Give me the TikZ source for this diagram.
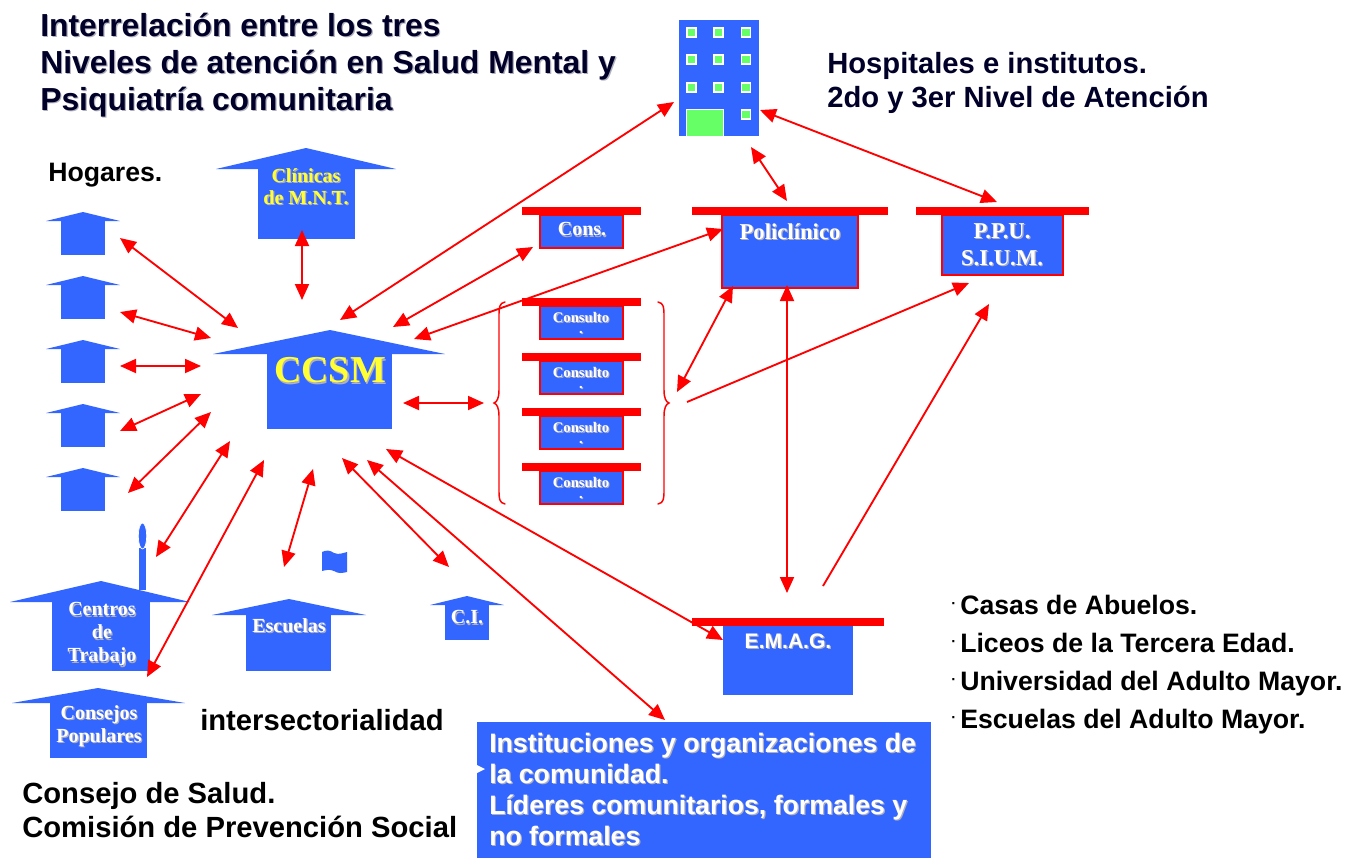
\documentclass[tikz,border=0pt]{standalone}
\usepackage{fontspec}
\setmainfont{Liberation Sans}
\newfontfamily\serifbf{Liberation Serif}[BoldFont={Liberation Serif Bold}]
\usetikzlibrary{arrows.meta}
\definecolor{hblue}{RGB}{51,102,255}
\definecolor{hred}{RGB}{255,0,0}
\definecolor{hyellow}{RGB}{255,255,51}
\definecolor{hgreen}{RGB}{102,255,102}
\definecolor{hnavy}{RGB}{0,0,40}
\definecolor{hshadow}{RGB}{175,175,190}
\newcommand{\shd}[2]{\leavevmode\rlap{\kern0.9pt\raisebox{-0.9pt}{\textcolor{hshadow}{#2}}}\textcolor{#1}{#2}}
\newcommand{\fsz}[2]{\fontsize{#1}{#2}\selectfont}
\newcommand{\dotm}{\llap{\raisebox{4pt}{\fsz{11}{11}·}\kern3pt}}
\tikzset{
  x=0.75pt,y=-0.75pt,
  bodybox/.style={fill=hblue,draw=none,inner sep=0pt,outer sep=0pt},
  redbox/.style={fill=hblue,draw=hred,line width=1.4pt,inner sep=0pt,outer sep=0pt},
  redbar/.style={fill=hred,draw=none,inner sep=0pt,outer sep=0pt},
  roofshape/.style={fill=hblue,draw=none},
  link/.style={draw=hred,line width=1.4pt,{Triangle[length=12pt,width=10.5pt]}-{Triangle[length=12pt,width=10.5pt]}},
  linkone/.style={draw=hred,line width=1.4pt,-{Triangle[length=12pt,width=10.5pt]}},
  brace/.style={draw=hred,line width=1.1pt,line cap=round},
  blacktxt/.style={inner sep=0pt,anchor=base west,align=left},
  seriftxt/.style={inner sep=0pt,align=center},
  win/.style={fill=hgreen,draw=white,line width=1.2pt},
}
% name, apex x, apex y, roof left, roof right, roof y, body left, body right, bottom
\newcommand{\house}[9]{%
  \fill[roofshape] (#2,#3) -- (#5,#6) -- (#4,#6) -- cycle;
  \node[bodybox,minimum width={(#8-#7)*0.75pt},minimum height={(#9-#6)*0.75pt}] (#1) at ({(#7+#8)/2},{(#6+#9)/2}) {};
}
% name, bar left, bar right, bar top, box left, box right, box bottom, style
\newcommand{\benchbox}[8]{%
  \node[#8,minimum width={(#6-#5)*0.75pt},minimum height={(#7-#4-8)*0.75pt}] (#1) at ({(#5+#6)/2},{(#4+8+#7)/2}) {};
  \node[redbar,minimum width={(#3-#2)*0.75pt},minimum height=6.6pt] (#1bar) at ({(#2+#3)/2},{#4+4}) {};
}
\begin{document}
\begin{tikzpicture}
\useasboundingbox (0,0) rectangle (1360,858);
\fill[white] (0,0) rectangle (1360,858);

% Title
\node[blacktxt,font=\bfseries\fsz{23.9}{27.75}] (title) at (40,110) {\shd{hnavy}{Interrelación entre los tres}\\\shd{hnavy}{Niveles de atención en Salud Mental y}\\\shd{hnavy}{Psiquiatría comunitaria}};
\node[blacktxt,font=\bfseries\fsz{21.9}{25.5}] (hosptxt) at (827,107) {\textcolor{hnavy}{Hospitales e institutos.}\\\textcolor{hnavy}{2do y 3er Nivel de Atención}};
\node[blacktxt,font=\bfseries\fsz{20}{22}] (hogares) at (48,181) {Hogares.};
\node[blacktxt,font=\bfseries\fsz{21.9}{24}] (intersec) at (200,730) {intersectorialidad};
\node[blacktxt,font=\bfseries\fsz{21.9}{25.5}] (consejo) at (22,837) {Consejo de Salud.\\Comisión de Prevención Social};
\node[blacktxt,font=\bfseries\fsz{20}{28.5}] (casas) at (960,728) {\dotm Casas de Abuelos.\\\dotm Liceos de la Tercera Edad.\\\dotm Universidad del Adulto Mayor.\\\dotm Escuelas del Adulto Mayor.};

% Hospital
\node[bodybox,minimum width=60pt,minimum height=87pt] (hospital) at (719,78) {};
\foreach \wx in {691.5,718.5,746}{\foreach \wy in {32.5,59.5,87.5}{\fill[win] (\wx-4.5,\wy-4.5) rectangle (\wx+4.5,\wy+4.5);}}
\fill[win] (741.5,110) rectangle (750.5,119);
\fill[win] (686.5,136) -- (686.5,109.5) -- (723.5,109.5) -- (723.5,136);

% Hogares
\house{hogA}{83}{212}{46}{120}{221}{61}{105}{255}
\house{hogB}{83}{276}{46}{120}{285}{61}{105}{319}
\house{hogC}{83}{340}{46}{120}{349}{61}{105}{383}
\house{hogD}{83}{404}{46}{120}{413}{61}{105}{447}
\house{hogE}{83}{468}{46}{120}{477}{61}{105}{511}

% Clinicas, CCSM
\house{clinicas}{306}{148}{216}{396}{169}{258}{355}{239}
\node[seriftxt,font=\serifbf\bfseries\fsz{15}{16.5}] (clinicast) at (306,187) {\shd{hyellow}{Clínicas}\\\shd{hyellow}{de M.N.T.}};
\house{ccsm}{330}{330}{213}{445}{354}{267}{392}{429}
\node[seriftxt,font=\serifbf\bfseries\fsz{28.5}{30}] (ccsmt) at (330,371) {\shd{hyellow}{CCSM}};

% Centros de trabajo
\fill[roofshape] (139,590) -- (139,548) -- (146,548) -- (146,590) -- cycle;
\fill[hblue,draw=white,line width=0.5pt] (142.5,536) ellipse (4.2 and 13);
\house{centros}{101}{581}{10}{190}{602}{52}{150}{671}
\node[seriftxt,font=\serifbf\bfseries\fsz{15}{17.25}] (centrost) at (102,635) {\shd{white}{Centros}\\\shd{white}{de}\\\shd{white}{Trabajo}};
\house{consejos}{98}{688}{12}{185}{703}{50}{147}{758}
\node[seriftxt,font=\serifbf\bfseries\fsz{15}{17.25}] (consejost) at (99,727) {\shd{white}{Consejos}\\\shd{white}{Populares}};
\house{escuelas}{289}{599}{212}{366}{615}{246}{331}{671}
\node[seriftxt,font=\serifbf\bfseries\fsz{15}{17}] (escuelast) at (289,626) {\shd{white}{Escuelas}};
\house{ci}{467}{596}{430}{504}{605}{445}{489}{640}
\node[seriftxt,font=\serifbf\bfseries\fsz{15}{17}] (cit) at (467,618) {\shd{white}{C.I.}};

% Flag
\fill[hblue] (322,552) .. controls (326,550) and (330,550) .. (334,553) .. controls (339,555) and (343,553) .. (347,552) -- (347,572) .. controls (342,573) and (339,574) .. (334,571) .. controls (330,569) and (326,570) .. (322,571) -- cycle;

% Red-barred boxes
\benchbox{cons}{522}{641}{207}{540}{623}{248}{redbox}
\node[seriftxt,font=\serifbf\bfseries\fsz{15}{17}] (const) at (582,230) {\shd{white}{Cons.}};
\benchbox{conA}{522}{641}{298}{540}{623}{339}{redbox}
\benchbox{conB}{522}{641}{353}{540}{623}{394}{redbox}
\benchbox{conC}{522}{641}{408}{540}{623}{449}{redbox}
\benchbox{conD}{522}{641}{463}{540}{623}{504}{redbox}
\node[seriftxt,font=\serifbf\bfseries\fsz{11}{8}] (conAt) at (581,323.3) {\shd{white}{Consulto}\\\shd{white}{.}};
\node[seriftxt,font=\serifbf\bfseries\fsz{11}{8}] (conBt) at (581,378.3) {\shd{white}{Consulto}\\\shd{white}{.}};
\node[seriftxt,font=\serifbf\bfseries\fsz{11}{8}] (conCt) at (581,433.3) {\shd{white}{Consulto}\\\shd{white}{.}};
\node[seriftxt,font=\serifbf\bfseries\fsz{11}{8}] (conDt) at (581,488.3) {\shd{white}{Consulto}\\\shd{white}{.}};
\benchbox{poli}{692}{888}{207}{722}{858}{288}{redbox}
\node[seriftxt,font=\serifbf\bfseries\fsz{17}{18}] (polit) at (790,232) {\shd{white}{Policlínico}};
\benchbox{ppu}{916}{1089}{207}{942}{1063}{275}{redbox}
\node[seriftxt,font=\serifbf\bfseries\fsz{17}{20.5}] (pput) at (1002,245) {\shd{white}{P.P.U.}\\\shd{white}{S.I.U.M.}};
\benchbox{emag}{692}{884}{618}{723}{853}{695}{bodybox}
\node[inner sep=0pt,font=\bfseries\fsz{15.8}{18}] (emagt) at (788,642) {\shd{white}{E.M.A.G.}};

% Institutions box
\node[bodybox,minimum width=340.5pt,minimum height=102pt] (inst) at (704,790) {};
\fill[white] (477,765) -- (485,769) -- (477,773) -- cycle;
\node[blacktxt,font=\bfseries\fsz{20}{23.25}] (instt) at (489,845) {\shd{white}{Instituciones y organizaciones de}\\\shd{white}{la comunidad.}\\\shd{white}{Líderes comunitarios, formales y}\\\shd{white}{no formales}};

% Braces
\coordinate (braceL) at (494,403);
\coordinate (braceR) at (669,403);
\draw[brace] (505,302) .. controls (499,303) and (499,308) .. (499,316) -- (499,390) .. controls (499,398) and (497,402) .. (braceL) .. controls (497,404) and (499,408) .. (499,416) -- (499,490) .. controls (499,498) and (499,503) .. (505,504);
\draw[brace] (658,302) .. controls (664,303) and (664,308) .. (664,316) -- (664,390) .. controls (664,398) and (666,402) .. (braceR) .. controls (666,404) and (664,408) .. (664,416) -- (664,490) .. controls (664,498) and (664,503) .. (658,504);

% Connector ends
\coordinate (ccsmTop) at (302,300);
\coordinate (clinBot) at (302,230);
\coordinate (hogAe) at (120,238);  \coordinate (ccsmA) at (238,328);
\coordinate (hogBe) at (120,312);  \coordinate (ccsmB) at (211,338);
\coordinate (hogCe) at (120,366);  \coordinate (ccsmC) at (201,366);
\coordinate (hogDe) at (120,431);  \coordinate (ccsmD) at (201,394);
\coordinate (hogEe) at (128,493);  \coordinate (ccsmE) at (211,412);
\coordinate (centE) at (156,557);  \coordinate (ccsmF) at (230,441);
\coordinate (consE) at (147,677);  \coordinate (ccsmG) at (264,460);
\coordinate (escE) at (284,567);   \coordinate (ccsmH) at (313,469);
\coordinate (ciE) at (449,567);    \coordinate (ccsmI) at (342,458);
\coordinate (instE) at (665,720);  \coordinate (ccsmJ) at (367,460);
\coordinate (emagE) at (723,640);  \coordinate (ccsmK) at (386,449);
\coordinate (ccsmL) at (403,403);  \coordinate (braceLe) at (484,403);
\coordinate (ccsmM) at (340,320);  \coordinate (hospE) at (674,102);
\coordinate (ccsmN) at (393,327);  \coordinate (consE2) at (533,247);
\coordinate (ccsmO) at (414,339);  \coordinate (poliE) at (723,229);
\coordinate (poliF) at (733,286);  \coordinate (braceRe) at (677,392);
\coordinate (poliG) at (787,285);  \coordinate (emagF) at (787,593);
\coordinate (braceRs) at (687,402); \coordinate (ppuE) at (969,283);
\coordinate (emagG) at (823,586);  \coordinate (ppuF) at (989,304);
\coordinate (hospF) at (751,147);  \coordinate (poliH) at (787,201);
\coordinate (hospG) at (760,110);  \coordinate (ppuG) at (997,202);

% Connectors
\draw[link] (clinBot) -- (ccsmTop);
\draw[link] (hogAe) -- (ccsmA);
\draw[link] (hogBe) -- (ccsmB);
\draw[link] (hogCe) -- (ccsmC);
\draw[link] (hogDe) -- (ccsmD);
\draw[link] (hogEe) -- (ccsmE);
\draw[link] (centE) -- (ccsmF);
\draw[link] (consE) -- (ccsmG);
\draw[link] (escE) -- (ccsmH);
\draw[link] (ciE) -- (ccsmI);
\draw[link] (instE) -- (ccsmJ);
\draw[link] (emagE) -- (ccsmK);
\draw[link] (ccsmL) -- (braceLe);
\draw[link] (ccsmM) -- (hospE);
\draw[link] (ccsmN) -- (consE2);
\draw[link] (ccsmO) -- (poliE);
\draw[link] (poliF) -- (braceRe);
\draw[link] (poliG) -- (emagF);
\draw[linkone] (braceRs) -- (ppuE);
\draw[linkone] (emagG) -- (ppuF);
\draw[link] (hospF) -- (poliH);
\draw[link] (hospG) -- (ppuG);
\end{tikzpicture}
\end{document}
